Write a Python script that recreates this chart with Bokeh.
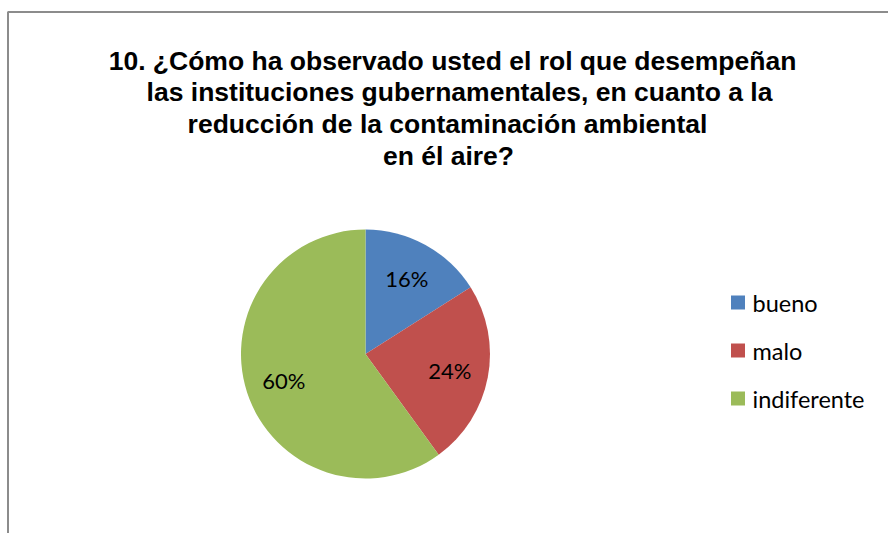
import numpy as np
from bokeh.plotting import figure
from bokeh.models import Range1d, Label, ColumnDataSource
from bokeh.core.properties import value
from bokeh.embed import file_html
from bokeh.resources import INLINE

# ---- data ----
categories = ["bueno", "malo", "indiferente"]
percentages = [16, 24, 60]
colors = ["#4F81BD", "#C0504D", "#9BBB59"]
title_lines = [
    "10. ¿Cómo ha observado usted el rol que desempeñan",
    "las instituciones gubernamentales, en cuanto a la",
    "reducción de la contaminación ambiental",
    "en él aire?",
]

W, H = 888, 533
p = figure(width=W, height=H, output_backend="svg", toolbar_location=None,
           x_range=Range1d(0, W), y_range=Range1d(0, H),
           x_axis_type=None, y_axis_type=None, min_border=0)
p.outline_line_color = None
p.background_fill_color = "white"
p.border_fill_color = "white"

def Y(y):
    return H - y

# chart border (left and top edges visible)
p.line(x=[7.5, 7.5, 900], y=[Y(540), Y(11.5), Y(11.5)], line_color="#8c8c8c", line_width=2)

# title
title_cx = [452, 459, 447, 448]
title_base = [60, 91.7, 123.3, 155]
for t, tx, by in zip(title_lines, title_cx, title_base):
    p.add_layout(Label(x=tx, y=Y(by), text=t, text_align="center", text_baseline="alphabetic",
                       text_font="Liberation Sans", text_font_style="bold",
                       text_font_size="26.5px", text_color="black"))

# pie
cx, cy, R = 365, Y(353.5), 124.5
vals = np.array(percentages, dtype=float)
frac = vals / vals.sum()
cum = np.concatenate([[0], np.cumsum(frac)])
start = np.pi / 2 - 2 * np.pi * cum[:-1]
end = np.pi / 2 - 2 * np.pi * cum[1:]
mid = (start + end) / 2
src = ColumnDataSource(dict(start=start, end=end, color=colors, cat=categories))
p.wedge(x=cx, y=cy, radius=R, start_angle="start", end_angle="end", direction="clock",
        fill_color="color", line_color=None, source=src)

lr = 0.69 * R
lab = ColumnDataSource(dict(x=cx + lr * np.cos(mid), y=cy + lr * np.sin(mid),
                            t=[f"{v:.0f}%" for v in vals]))
p.text(x="x", y="y", text="t", source=lab, text_align="center", text_baseline="middle",
       text_font=value("Lato"), text_font_size="22px", text_color="black")

# legend
ly = [Y(302 + 48 * i) for i in range(len(categories))]
leg = ColumnDataSource(dict(x=[737.5] * 3, y=ly, tx=[752] * 3, c=colors, cat=categories))
p.scatter(x="x", y="y", marker="square", size=14, fill_color="c", line_color=None, source=leg)
p.text(x="tx", y="y", text="cat", source=leg, text_align="left", text_baseline="middle",
       text_font=value("Lato"), text_font_size="23.5px", text_color="black")

open("out.html", "w").write(file_html(p, INLINE))
